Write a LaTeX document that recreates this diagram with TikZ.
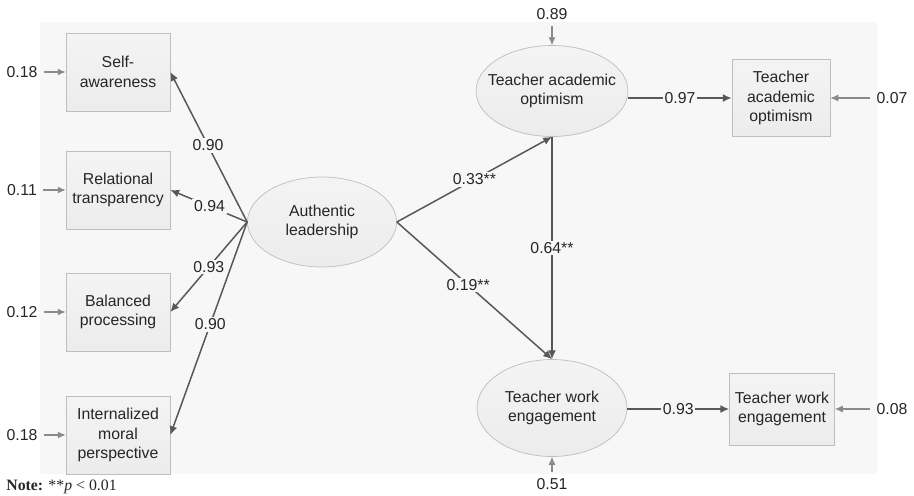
\documentclass[tikz,border=0pt]{standalone}
\usepackage{fontspec}
\setmainfont{Liberation Sans}
\newfontfamily\notefont{Liberation Serif}
\usetikzlibrary{arrows.meta,shapes.geometric}
\definecolor{panel}{HTML}{F7F7F7}
\definecolor{boxfill}{HTML}{ECECEC}
\definecolor{boxline}{HTML}{BEBEBE}
\definecolor{pathcol}{HTML}{585858}
\definecolor{errcol}{HTML}{8A8A8A}
\tikzset{
    obs/.style={rectangle, draw=boxline, top color=boxfill!60, bottom color=boxfill, align=center, inner sep=1pt, minimum width=2.08cm, minimum height=1.56cm},
    lat/.style={ellipse, draw=boxline, top color=boxfill!60, bottom color=boxfill, align=center, inner sep=0pt},
    pathline/.style={draw=pathcol, line width=0.85pt, ->, >={Latex[length=5pt,width=4.5pt]}},
    err/.style={draw=errcol, line width=0.6pt, ->, >={Latex[length=4.5pt,width=4pt]}},
    lbl/.style={fill=panel, inner sep=1pt}
}
\begin{document}
\begin{tikzpicture}[x=0.02cm, y=-0.02cm, font=\fontsize{9}{11}\selectfont, text=black!85]
    \useasboundingbox (0,0) rectangle (914,495);
    \fill[panel] (40,22) rectangle (877,474);
    % indicators of authentic leadership
    \node[obs] (SA) at (118,72) {Self-\\awareness};
    \node[obs] (RT) at (118,190) {Relational\\transparency};
    \node[obs] (BP) at (118,312) {Balanced\\processing};
    \node[obs] (IMP) at (118,435) {Internalized\\moral\\perspective};
    \node (eSA) at (22,72) {0.18};
    \node (eRT) at (22,190) {0.11};
    \node (eBP) at (22,312) {0.12};
    \node (eIMP) at (22,435) {0.18};
    \draw[err] (eSA) -- (SA);
    \draw[err] (eRT) -- (RT);
    \draw[err] (eBP) -- (BP);
    \draw[err] (eIMP) -- (IMP);
    % latent variables
    \node[lat, minimum width=2.98cm, minimum height=1.8cm] (AL) at (322,222) {Authentic\\leadership};
    \node[lat, minimum width=3.04cm, minimum height=1.82cm, inner xsep=-6.5pt] (TAO) at (552,91) {Teacher academic\\optimism};
    \node[lat, minimum width=3cm, minimum height=1.94cm] (TWE) at (552,408) {Teacher work\\engagement};
    \draw[pathline] (AL.west) -- node[lbl, pos=0.51] {0.90} (SA.east);
    \draw[pathline] (AL.west) -- node[lbl, pos=0.49] {0.94} (RT.east);
    \draw[pathline] (AL.west) -- node[lbl, pos=0.5] {0.93} (BP.east);
    \draw[pathline] (AL.west) -- node[lbl, pos=0.48] {0.90} (IMP.east);
    \draw[pathline] (AL.east) -- node[lbl, pos=0.5] {0.33**} (TAO.south);
    \draw[pathline] (AL.east) -- node[lbl, pos=0.46] {0.19**} (TWE.north);
    \draw[pathline] (TAO.south) -- node[lbl] {0.64**} (TWE.north);
    % observed outcomes
    \node[obs, minimum width=1.96cm, minimum height=1.54cm] (TAOo) at (781,98) {Teacher\\academic\\optimism};
    \node[obs, minimum width=2.1cm, minimum height=1.44cm] (TWEo) at (782,409) {Teacher work\\engagement};
    \draw[pathline] (TAO.east |- TAOo.west) -- node[lbl] {0.97} (TAOo.west);
    \draw[pathline] (TWE.east |- TWEo.west) -- node[lbl] {0.93} (TWEo.west);
    \node (eTAOo) at (892,98) {0.07};
    \node (eTWEo) at (892,409) {0.08};
    \node (eTAO) at (552,14) {0.89};
    \node (eTWE) at (552,484) {0.51};
    \draw[err] (eTAOo) -- (TAOo);
    \draw[err] (eTWEo) -- (TWEo);
    \draw[err] (eTAO) -- (TAO);
    \draw[err] (eTWE) -- (TWE);
    \node[anchor=north west, inner sep=0pt, font=\notefont\fontsize{9}{11}\selectfont] (note) at (6,480) {\textbf{Note:} **\textit{p} < 0.01};
\end{tikzpicture}
\end{document}
